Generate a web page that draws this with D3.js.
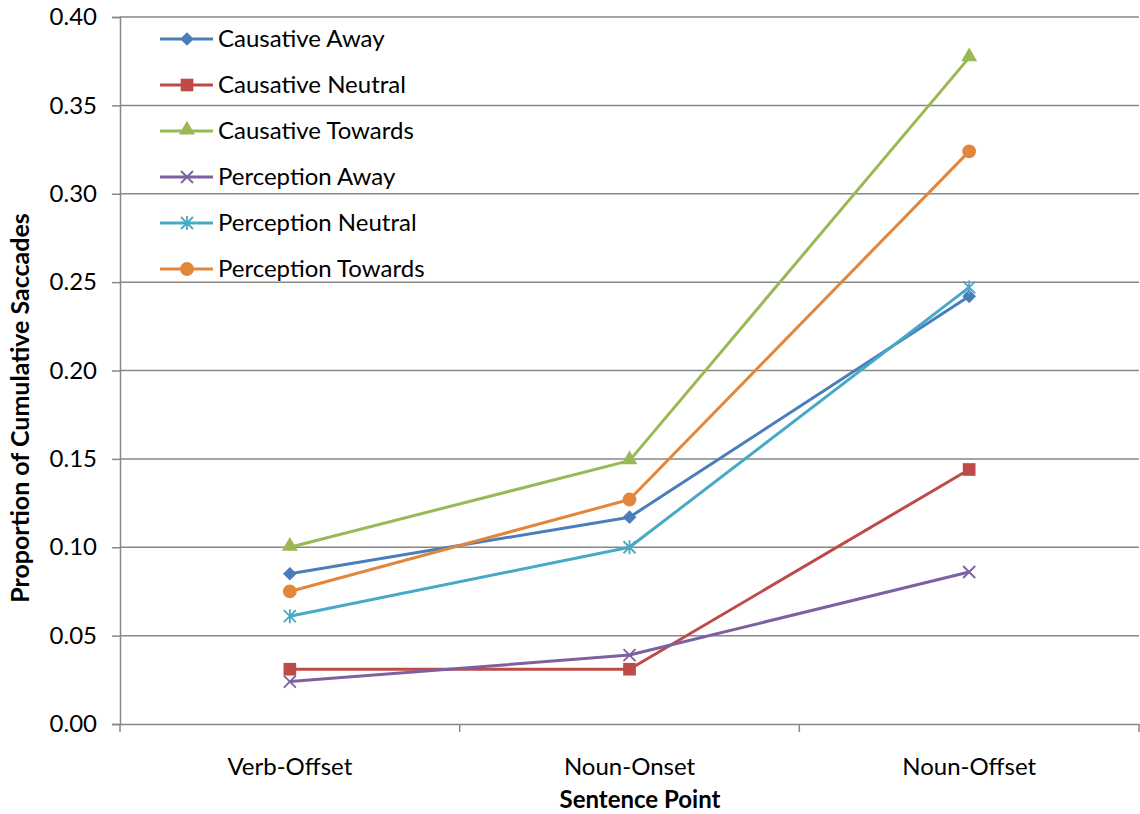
<!DOCTYPE html>
<html>
<head>
<meta charset="utf-8">
<script src="https://cdn.jsdelivr.net/npm/d3@7"></script>
<style>
  html, body { margin: 0; padding: 0; background: #fff; }
  svg { display: block; font-family: Lato, "Open Sans", sans-serif; }
</style>
</head>
<body>
<svg id="chart" width="1140" height="814"></svg>
<script>
// Sentence points along the x axis
const categories = ["Verb-Offset", "Noun-Onset", "Noun-Offset"];

// Proportion of cumulative saccades per condition
const causativeAway     = [0.085, 0.117, 0.242];
const causativeNeutral  = [0.031, 0.031, 0.144];
const causativeTowards  = [0.100, 0.149, 0.377];
const perceptionAway    = [0.024, 0.039, 0.086];
const perceptionNeutral = [0.061, 0.100, 0.247];
const perceptionTowards = [0.075, 0.127, 0.324];

const seriesNames = ["Causative Away", "Causative Neutral", "Causative Towards",
                     "Perception Away", "Perception Neutral", "Perception Towards"];
const yTicks = [0, 0.05, 0.10, 0.15, 0.20, 0.25, 0.30, 0.35, 0.40];

const series = [
  { name: seriesNames[0], values: causativeAway,     color: "#4a7ebb", symbol: "diamond" },
  { name: seriesNames[1], values: causativeNeutral,  color: "#be4b48", symbol: "square" },
  { name: seriesNames[2], values: causativeTowards,  color: "#98b954", symbol: "triangle" },
  { name: seriesNames[3], values: perceptionAway,    color: "#7d60a0", symbol: "x" },
  { name: seriesNames[4], values: perceptionNeutral, color: "#46aac5", symbol: "star" },
  { name: seriesNames[5], values: perceptionTowards, color: "#e2863c", symbol: "circle" }
];

const svg = d3.select("#chart");
const margin = { left: 120, top: 17, right: 1, bottom: 90 };
const W = 1140, H = 814;
const x0 = margin.left, x1 = W - margin.right;
const y0 = H - margin.bottom, y1 = margin.top;

const x = d3.scaleBand().domain(categories).range([x0, x1]);
const y = d3.scaleLinear().domain([0, 0.40]).range([y0, y1]);

const gridColor = "#878787";
const labelSize = 24;

// Horizontal gridlines
svg.append("g")
  .selectAll("line")
  .data(yTicks.filter(t => t > 0))
  .join("line")
  .attr("x1", x0).attr("x2", x1)
  .attr("y1", d => y(d)).attr("y2", d => y(d))
  .attr("stroke", gridColor).attr("stroke-width", 1.5);

// Y axis
const yAxis = svg.append("g")
  .attr("transform", `translate(${x0},0)`)
  .call(d3.axisLeft(y).tickValues(yTicks).tickFormat(d3.format(".2f")).tickSize(8).tickPadding(15));
yAxis.select(".domain").attr("stroke", gridColor).attr("stroke-width", 1.5);
yAxis.selectAll(".tick line").attr("stroke", gridColor).attr("stroke-width", 1.5);
yAxis.selectAll(".tick text").attr("fill", "#000").attr("font-size", labelSize).attr("font-family", "Lato, sans-serif");

// X axis with ticks between categories
const xAxis = svg.append("g")
  .attr("transform", `translate(0,${y0})`)
  .call(d3.axisBottom(x).tickSize(0).tickPadding(34));
xAxis.select(".domain").attr("stroke", gridColor).attr("stroke-width", 1.5);
xAxis.selectAll(".tick text").attr("fill", "#000").attr("font-size", labelSize).attr("font-family", "Lato, sans-serif");
const bounds = categories.map(c => x(c)).concat([x(categories[categories.length - 1]) + x.bandwidth()]);
xAxis.selectAll(".sep")
  .data(bounds)
  .join("line")
  .attr("class", "sep")
  .attr("x1", d => d).attr("x2", d => d)
  .attr("y1", 0).attr("y2", 8)
  .attr("stroke", gridColor).attr("stroke-width", 1.5);

// Axis titles
svg.append("text")
  .attr("x", 640).attr("y", 808)
  .attr("text-anchor", "middle")
  .attr("font-size", 24).attr("font-weight", "bold")
  .text("Sentence Point");

svg.append("text")
  .attr("transform", "translate(29,408) rotate(-90)")
  .attr("text-anchor", "middle")
  .attr("font-size", 25).attr("font-weight", "bold")
  .text("Proportion of Cumulative Saccades");

// Marker drawing
function drawMarker(g, symbol, color) {
  if (symbol === "x") {
    g.append("path").attr("d", "M-6,-6L6,6M-6,6L6,-6")
      .attr("stroke", color).attr("stroke-width", 1.8).attr("fill", "none");
  } else if (symbol === "star") {
    g.append("path").attr("d", "M-6,-6L6,6M-6,6L6,-6M0,-7L0,7")
      .attr("stroke", color).attr("stroke-width", 1.8).attr("fill", "none");
  } else {
    const types = { diamond: d3.symbolDiamond2, square: d3.symbolSquare,
                    triangle: d3.symbolTriangle, circle: d3.symbolCircle };
    const sizes = { diamond: 120, square: 160, triangle: 110, circle: 150 };
    g.append("path")
      .attr("d", d3.symbol().type(types[symbol]).size(sizes[symbol])())
      .attr("transform", symbol === "triangle" ? "translate(0,-1)" : null)
      .attr("fill", color);
  }
}

const line = d3.line()
  .x((d, i) => x(categories[i]) + x.bandwidth() / 2)
  .y(d => y(d));

const plot = svg.append("g");
series.forEach(s => {
  plot.append("path")
    .datum(s.values)
    .attr("d", line)
    .attr("fill", "none")
    .attr("stroke", s.color)
    .attr("stroke-width", 3)
    .attr("stroke-linejoin", "round");
});
series.forEach(s => {
  s.values.forEach((v, i) => {
    const g = plot.append("g")
      .attr("transform", `translate(${x(categories[i]) + x.bandwidth() / 2},${y(v)})`);
    drawMarker(g, s.symbol, s.color);
  });
});

// Legend
const legend = svg.append("g").attr("transform", "translate(160,39)");
series.forEach((s, i) => {
  const row = legend.append("g").attr("transform", `translate(0,${i * 46})`);
  row.append("line").attr("x1", 0).attr("x2", 53).attr("y1", 0).attr("y2", 0)
    .attr("stroke", s.color).attr("stroke-width", 3);
  const m = row.append("g").attr("transform", "translate(27,0)");
  drawMarker(m, s.symbol, s.color);
  row.append("text").attr("x", 58).attr("y", 0).attr("dy", "0.35em")
    .attr("font-size", labelSize).text(s.name);
});
</script>
</body>
</html>
